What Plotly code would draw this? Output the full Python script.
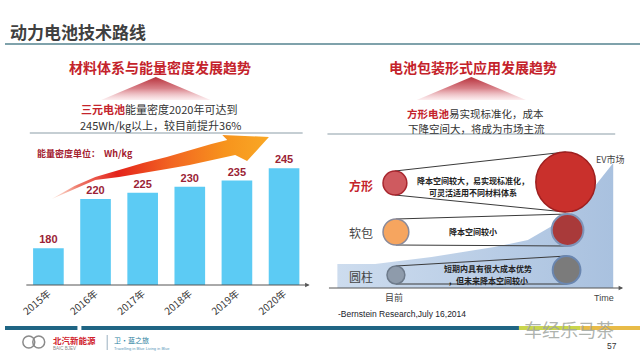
import plotly.graph_objects as go

# ---------------- data ----------------
years = ["2015年", "2016年", "2017年", "2018年", "2019年", "2020年"]
energy_density = [180, 220, 225, 230, 235, 245]

pack_types = ["方形", "软包", "圆柱"]
pack_notes = [["降本空间较大，易实现标准化，", "可灵活适用不同材料体系"],
              ["降本空间较小"],
              ["短期内具有很大成本优势", "，但未来降本空间较小"]]

CJK = "Noto Sans CJK SC"
W, H = 640, 360

fig = go.Figure()

# ---------------- bar chart ----------------
fig.add_trace(go.Bar(
    x=years, y=energy_density,
    marker=dict(color="#5ccbf4", line=dict(width=0)),
    texttemplate="%{y}", textposition="outside",
    textfont=dict(color="#9b2335", size=11, family="Liberation Sans", weight="bold"),
    cliponaxis=False, xaxis="x", yaxis="y", showlegend=False,
))

# ---------------- decoration layer (pixel coords) ----------------
def px_trace(xs, ys, **kw):
    fig.add_trace(go.Scatter(x=xs, y=ys, xaxis="x2", yaxis="y2",
                             showlegend=False, hoverinfo="skip", **kw))

# orange arrow
arrow_x = [47, 70, 91, 115, 139, 163, 186, 208, 224, 219, 266, 244, 232, 208, 186, 163, 139, 115, 91, 70, 47]
arrow_y = [199, 186, 177, 170, 163, 157, 150, 144, 140, 135, 137, 161, 155, 160, 165, 169, 173, 177, 180, 189, 199]
px_trace(arrow_x, arrow_y, mode="lines", line=dict(width=0), fill="toself",
         fillgradient=dict(type="horizontal", colorscale=[
             [0, "rgba(250,200,180,0.5)"], [0.12, "#ee7a6a"], [0.3, "#e4231b"],
             [0.55, "#f26522"], [0.8, "#f7941d"], [1, "#f9a825"]]))

# red triangles under subtitles
for cx in (152, 470):
    px_trace([cx, cx + 55, cx - 55, cx], [77, 100, 100, 77], mode="lines",
             line=dict(width=0), fill="toself",
             fillgradient=dict(type="vertical", start=77, stop=100, colorscale=[
                 [0, "#b8323c"], [0.5, "#d9828a"], [1, "rgba(250,225,228,0.6)"]]))

# EV market area
area_x = [335, 335, 373, 430, 493, 527, 567, 593, 613, 613]
area_y = [288, 264, 264, 257, 247, 240, 217, 188, 163, 288]
px_trace(area_x, area_y, mode="lines", line=dict(width=0), fill="toself",
         fillgradient=dict(type="horizontal", colorscale=[
             [0, "#cddcee"], [1, "#a9c1df"]]))

# ---------------- shapes ----------------
shapes = []
def line(x0, y0, x1, y1, color, width=1, layer="above"):
    shapes.append(dict(type="line", xref="x2", yref="y2", x0=x0, y0=y0, x1=x1, y1=y1,
                       line=dict(color=color, width=width), layer=layer))

def circle(cx, cy, r, fill, outline, width=1.5):
    shapes.append(dict(type="circle", xref="x2", yref="y2", x0=cx - r, x1=cx + r,
                       y0=cy - r, y1=cy + r, fillcolor=fill,
                       line=dict(color=outline, width=width), layer="above"))

# header rule
line(0, 44, 640, 44, "#7fa2ab", 2)
# separators
line(25, 133, 300, 133, "rgba(150,165,175,0.55)", 2)
line(325, 134, 615, 134, "rgba(150,165,175,0.55)", 2)
# footer bar
line(0, 328, 73, 328, "#1f6584", 4)
line(77, 328, 518, 328, "#1f6584", 4)
line(518, 328, 580, 328, "#c9d54c", 4)
line(580, 328, 640, 328, "#e8bb48", 4)
line(103, 335, 103, 350, "#9ab0c0", 1)

# tangent lines
tang = [((393, 171), (565, 152)), ((393, 195), (565, 212)),
        ((394, 219), (567, 214)), ((394, 245), (567, 246)),
        ((394, 266), (566, 256)), ((394, 284), (566, 284))]
for (a, b) in tang:
    line(a[0], a[1], b[0], b[1], "#3a3a3a", 1)

circle(393, 183, 12, "#cf5a5f", "#a8262e")
circle(565, 182, 30, "#c9302c", "#9e1f1f")
circle(394, 232, 13, "#f6a55f", "#8a8a9a")
circle(567, 230, 16, "#a93a3a", "#7f94b8", 2)
circle(394, 275, 9, "#8e9bab", "#6d7a8a")
circle(566, 270, 14, "#7b7b7b", "#6a86b0", 2)

# logo circles
circle(24, 342, 6, "rgba(0,0,0,0)", "#8a8a8a", 1.5)
circle(34, 342, 6, "rgba(0,0,0,0)", "#8a8a8a", 1.5)

# ---------------- annotations ----------------
ann = []
def text(x, y, s, size=10, color="#333", bold=False, xanchor="center", family=CJK, **kw):
    ann.append(dict(x=x, y=y, xref="x2", yref="y2", text=s, showarrow=False,
                    xanchor=xanchor, yanchor="middle", borderpad=0,
                    font=dict(size=size, color=color, family=family,
                              weight="bold" if bold else "normal"), **kw))

def arrow(x0, y, x1):
    ann.append(dict(x=x1, y=y, ax=x0, ay=y, xref="x2", yref="y2", axref="x2", ayref="y2",
                    text="", showarrow=True, arrowhead=2, arrowsize=0.9,
                    arrowwidth=1, arrowcolor="#555"))

text(4, 31, "动力电池技术路线", 17, "#404040", True, xanchor="left")
text(156, 67, "材料体系与能量密度发展趋势", 14, "#c4232b", True)
text(472, 67, "电池包装形式应用发展趋势", 14, "#c4232b", True)

text(155, 109, "<span style='color:#c4232b'><b>三元电池</b></span>能量密度2020年可达到", 11, "#333")
text(157, 125, "245Wh/kg以上，较目前提升36%", 11, "#333")
text(474, 113, "<span style='color:#c4232b'><b>方形电池</b></span>易实现标准化，成本", 10.5, "#333")
text(475, 128, "下降空间大，将成为市场主流", 10.5, "#333")

text(31, 153, "能量密度单位：  Wh/kg", 9, "#a3202f", True, xanchor="left")

arrow(20, 285, 307)
arrow(325, 288, 623)

label_colors = ["#c4232b", "#444", "#444"]
label_y = [185, 232, 276]
for name, c, y in zip(pack_types, label_colors, label_y):
    text(359, y, name, 12, c, name == "方形")

note_pos = [(472, [180, 192]), (472, [231]), (487, [268, 280])]
for lines_, (cx, ys) in zip(pack_notes, note_pos):
    for s, y in zip(lines_, ys):
        text(cx, y, s, 8, "#222", True)

text(610, 159, "EV市场", 9, "#444")
text(392, 297, "目前", 9, "#444")
text(604, 298, "Time", 9, "#444", family="Liberation Sans")
text(400, 314, "-Bernstein Research,July 16,2014", 8.5, "#1a1a2a", family="Liberation Sans")

text(568, 329, "车经乐马茶", 18, "rgba(160,165,160,0.85)")
text(612, 346, "57", 8.5, "#333", family="Liberation Sans")
text(47, 340, "北汽新能源", 8.5, "#d0202a", True, xanchor="left")
text(47, 348, "BAIC BJEV", 4.5, "#888", xanchor="left", family="Liberation Sans")
text(109, 340, "卫·蓝之旅", 7, "#2a7fa0", xanchor="left")
text(109, 348, "Travelling in Blue Living in Blue", 4, "#5a9ab8", xanchor="left", family="Liberation Sans")

fig.update_layout(
    width=W, height=H, margin=dict(l=0, r=0, t=0, b=0),
    paper_bgcolor="white", plot_bgcolor="rgba(0,0,0,0)",
    bargap=0.35, showlegend=False,
    xaxis=dict(domain=[20 / W, 305 / W], showgrid=False, showline=False, zeroline=False,
               ticks="", tickangle=-40, tickfont=dict(size=10, color="#333", family=CJK),
               fixedrange=True),
    yaxis=dict(domain=[(H - 285) / H, (H - 140) / H], range=[150, 268], visible=False,
               fixedrange=True),
    xaxis2=dict(domain=[0, 1], range=[0, W], visible=False, anchor="y2", fixedrange=True),
    yaxis2=dict(domain=[0, 1], range=[H, 0], visible=False, anchor="x2", fixedrange=True),
    shapes=shapes, annotations=ann,
)

fig.write_html("out.html", config={"displayModeBar": False},
               post_script="document.body.style.margin='0';document.body.style.overflow='hidden';")
